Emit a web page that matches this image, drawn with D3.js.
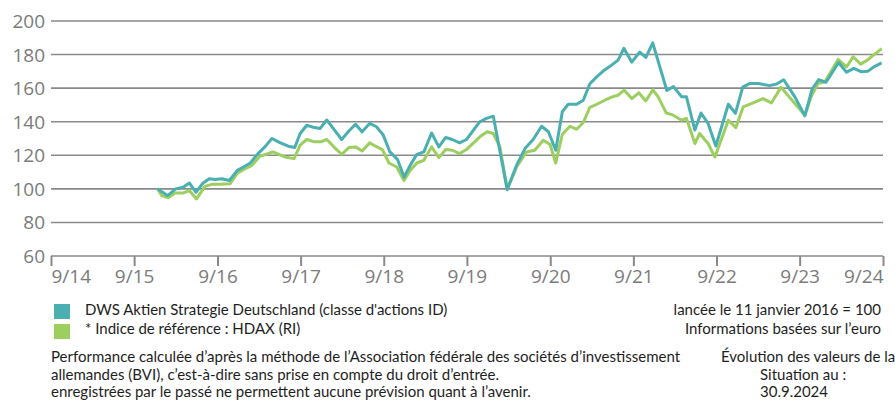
<!DOCTYPE html>
<html lang="fr">
<head>
<meta charset="UTF-8">
<title>DWS Aktien Strategie Deutschland</title>
<script src="https://d3js.org/d3.v7.min.js"></script>
<style>
  body, html { margin: 0; padding: 0; background: #fff; overflow: hidden; }
  .tick-label { font-family: "Open Sans", sans-serif; font-size: 19px; fill: #7b7b7b; }
  .note { font-family: Lato, "Open Sans", sans-serif; font-size: 15px; fill: #1e1e1e; }
</style>
</head>
<body>
<script>
// fonds (classe d'actions ID)
const fundDates = ["2016-01-11","2016-02-23","2016-03-31","2016-05-02","2016-05-29","2016-06-27","2016-07-29","2016-08-25","2016-09-19","2016-10-19","2016-11-21","2016-12-26",
  "2017-01-22","2017-02-21","2017-03-27","2017-04-26","2017-05-27","2017-07-01","2017-08-07","2017-09-04","2017-09-28","2017-10-27","2017-11-30","2017-12-24",
  "2018-01-23","2018-02-26","2018-03-29","2018-04-27","2018-05-29","2018-06-27","2018-07-30","2018-08-29","2018-09-28","2018-10-27","2018-11-30","2018-12-28",
  "2019-01-24","2019-02-22","2019-03-25","2019-04-28","2019-05-30","2019-06-29","2019-07-28","2019-08-29","2019-09-28","2019-11-26","2019-12-25","2020-01-24",
  "2020-03-25","2020-05-05","2020-06-11","2020-07-17","2020-08-23","2020-09-22","2020-10-24","2020-11-22","2020-12-18",
  "2021-01-24","2021-02-22","2021-03-23","2021-04-22","2021-05-28","2021-06-26","2021-07-25","2021-08-19","2021-09-23","2021-10-28","2021-11-24","2021-12-24",
  "2022-02-24","2022-03-25","2022-04-30","2022-05-21","2022-06-27","2022-07-24","2022-08-24","2022-09-27","2022-11-21","2022-12-22",
  "2023-01-23","2023-02-24","2023-03-31","2023-05-21","2023-06-21","2023-07-22","2023-09-09","2023-10-23","2023-11-24","2023-12-22",
  "2024-01-24","2024-03-19","2024-04-23","2024-05-25","2024-06-25","2024-07-25","2024-08-21","2024-09-24"];
const fundValues = [100,96,100,101,103.5,98,103.5,106,105.6,106,105,111,
  113,115.4,121,125,130,127.5,125.4,124.6,133,137.9,136.5,136,
  141,135,129.4,134,138.5,134,139,137,132,122,117.4,107,
  114,120.5,122,133.3,125,130.6,129.4,127.4,129.4,140,142,143.3,
  99.5,114,124,129.4,137.3,134,123,146,150.4,
  150.4,152.8,162.6,166.7,171,173.7,176.7,183.7,175.5,181.5,178.3,187,
  158.6,161,154.8,154.8,135,145.2,139,125.5,150.4,145,
  160.6,162.8,162.8,161.5,162.5,165,154.8,143.6,159.5,165,
  163.5,175.3,169.5,171.8,169.8,170,172.7,175];

// indice de référence HDAX (RI)
const benchDates = ["2016-01-11","2016-01-29","2016-02-27","2016-03-28","2016-05-02","2016-05-29","2016-06-30","2016-08-06","2016-09-05","2016-10-11","2016-11-24","2016-12-26",
  "2017-01-30","2017-02-28","2017-04-04","2017-05-03","2017-05-31","2017-07-23","2017-09-01","2017-09-28","2017-10-27","2017-11-30","2017-12-28",
  "2018-01-23","2018-02-26","2018-03-29","2018-04-30","2018-05-29","2018-06-27","2018-07-30","2018-08-25","2018-09-24","2018-10-23","2018-11-26","2018-12-28",
  "2019-01-24","2019-02-22","2019-03-25","2019-04-28","2019-05-30","2019-06-29","2019-07-28","2019-08-29","2019-09-28","2019-11-26","2019-12-28","2020-01-24","2020-02-22",
  "2020-03-25","2020-05-05","2020-06-18","2020-07-24","2020-08-30","2020-09-29","2020-10-24","2020-11-22","2020-12-26",
  "2021-01-24","2021-02-22","2021-03-23","2021-04-22","2021-05-28","2021-06-29","2021-07-25","2021-08-21","2021-09-23","2021-10-24","2021-11-23","2021-12-25",
  "2022-01-17","2022-02-21","2022-03-24","2022-04-30","2022-05-21","2022-06-27","2022-07-18","2022-08-24","2022-09-23","2022-11-21","2022-12-24",
  "2023-01-25","2023-03-02","2023-04-22","2023-05-29","2023-07-10","2023-10-23","2023-11-22","2023-12-20",
  "2024-01-19","2024-03-17","2024-04-23","2024-05-22","2024-06-24","2024-07-27","2024-09-24"];
const benchValues = [100,96,94.7,97.5,97.5,99,94,101.5,102.7,102.7,103,109.4,
  112,114,119.4,120.6,122,119,118,126,129.4,128,128,
  129.4,124.6,120.6,124.6,125,122.6,127.4,125.4,123.4,115.4,113,105,
  111,115.4,117,125,118.6,123.4,123,121,123.4,131,134,133,125,
  100,113,122,123,129,126.5,115.4,132.5,137.3,
  135.5,139.5,148.6,150.4,152.8,154.8,155.8,158.8,153.8,157.2,152.4,159,
  154.8,145.3,143.9,140.9,142,127,133,127,119,140.9,136.5,
  148.8,150.8,153.8,151.2,160.5,143.9,155.8,162.8,
  163.8,177.1,172.7,178.7,174.3,177.1,183.5];

const yTicks = [60, 80, 100, 120, 140, 160, 180, 200];
const xTickLabels = ["9/14","9/15","9/16","9/17","9/18","9/19","9/20","9/21","9/22","9/23","9/24"];

const legendLabels = ["DWS Aktien Strategie Deutschland (classe d'actions ID)", "* Indice de référence : HDAX (RI)"];
const rightNotes = ["lancée le 11 janvier 2016 = 100", "Informations basées sur l’euro"];
const footLines = ["Performance calculée d’après la méthode de l’Association fédérale des sociétés d’investissement",
  "allemandes (BVI), c’est-à-dire sans prise en compte du droit d’entrée.",
  "enregistrées par le passé ne permettent aucune prévision quant à l’avenir."];
const sideLines = ["Évolution des valeurs de la", "Situation au :", "30.9.2024"];

const teal = "#4aafb0", green = "#9ccf5f", grid = "#8a8a8a";
const W = 895, H = 403;
const m = { top: 21, right: 12, bottom: 147, left: 51 };

const parse = d3.timeParse("%Y-%m-%d");
const svg = d3.select("body").append("svg").attr("width", W).attr("height", H);

const x = d3.scaleTime()
  .domain([new Date(2014, 8, 30), new Date(2024, 8, 30)])
  .range([m.left, W - m.right]);
const y = d3.scaleLinear().domain([60, 200]).range([H - m.bottom, m.top]);

// grille horizontale
svg.append("g").selectAll("line").data(yTicks).join("line")
  .attr("x1", m.left).attr("x2", W - m.right)
  .attr("y1", d => y(d)).attr("y2", d => y(d))
  .attr("stroke", grid).attr("stroke-width", 1.6);

svg.append("g").selectAll("text").data(yTicks).join("text")
  .attr("class", "tick-label")
  .attr("x", m.left - 6).attr("y", d => y(d) + 7)
  .attr("text-anchor", "end")
  .text(d => d);

// axe x
const xTickDates = xTickLabels.map((d, i) => new Date(2014 + i, 8, 30));
const xAxis = d3.axisBottom(x).tickValues(xTickDates).tickSize(10).tickFormat((d, i) => xTickLabels[i]);
const gx = svg.append("g").attr("transform", `translate(0,${y(60)})`).call(xAxis);
gx.select(".domain").remove();
gx.selectAll(".tick line").attr("stroke", grid).attr("stroke-width", 2);
gx.selectAll(".tick text")
  .attr("class", "tick-label").attr("y", 14).attr("dy", "0.71em")
  .attr("text-anchor", (d, i) => i === 0 ? "start" : (i === xTickLabels.length - 1 ? "end" : "middle"));

// courbes
const line = d3.line().x(d => x(d.date)).y(d => y(d.value)).curve(d3.curveLinear);
const bench = benchDates.map((d, i) => ({ date: parse(d), value: benchValues[i] }));
const fund = fundDates.map((d, i) => ({ date: parse(d), value: fundValues[i] }));

svg.append("path").datum(bench).attr("d", line)
  .attr("fill", "none").attr("stroke", green).attr("stroke-width", 3).attr("stroke-linejoin", "round");
svg.append("path").datum(fund).attr("d", line)
  .attr("fill", "none").attr("stroke", teal).attr("stroke-width", 3).attr("stroke-linejoin", "round");

// légende
const lg = svg.append("g");
[teal, green].forEach((c, i) => {
  lg.append("rect").attr("x", 54).attr("y", 304 + i * 20).attr("width", 16).attr("height", 15).attr("fill", c);
  lg.append("text").attr("class", "note").attr("x", 85).attr("y", 315 + i * 19).text(legendLabels[i]);
});

svg.append("g").selectAll("text").data(rightNotes).join("text")
  .attr("class", "note").attr("x", 881).attr("y", (d, i) => 315 + i * 19)
  .attr("text-anchor", "end").text(d => d);

svg.append("g").selectAll("text").data(footLines).join("text")
  .attr("class", "note").attr("x", 51).attr("y", (d, i) => 362 + i * 17.5).text(d => d);

svg.append("g").selectAll("text").data(sideLines).join("text")
  .attr("class", "note").attr("x", (d, i) => i === 0 ? 721 : 760).attr("y", (d, i) => 362 + i * 17.5).text(d => d);
</script>
</body>
</html>
